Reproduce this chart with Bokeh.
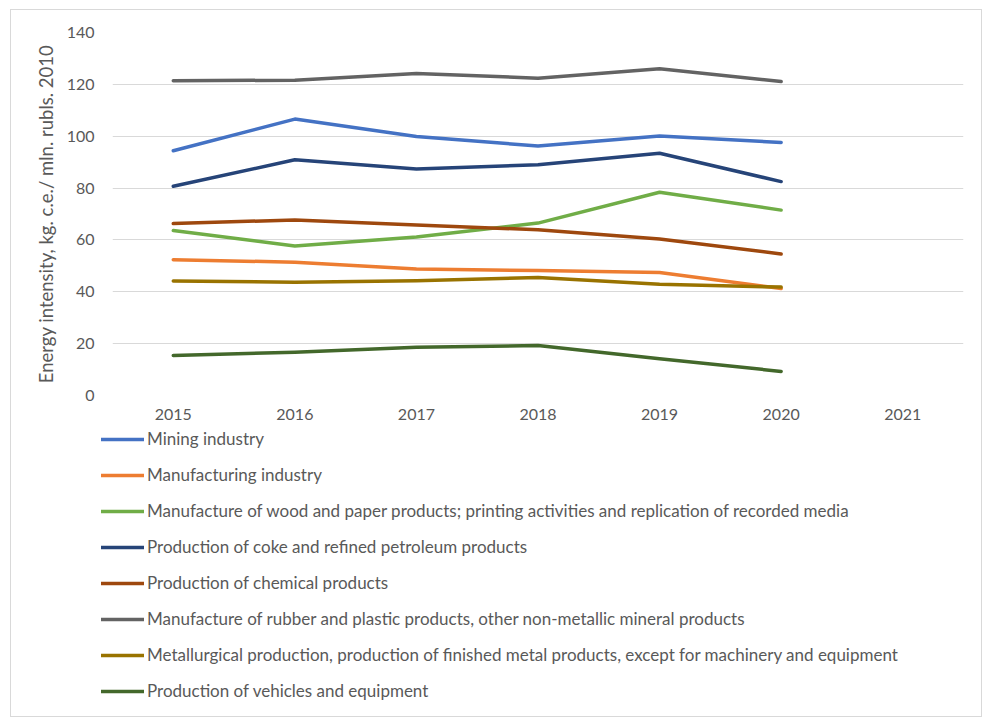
from bokeh.plotting import figure
from bokeh.layouts import column
from bokeh.models import FactorRange, Range1d, Legend, LegendItem, FixedTicker
from bokeh.embed import file_html
from bokeh.resources import INLINE

years = ["2015", "2016", "2017", "2018", "2019", "2020", "2021"]
data_years = ["2015", "2016", "2017", "2018", "2019", "2020"]

mining = [94.4, 106.6, 99.9, 96.2, 100.1, 97.6]
manufacturing = [52.4, 51.4, 48.8, 48.2, 47.4, 41.3]
wood_paper = [63.6, 57.7, 61.1, 66.5, 78.4, 71.5]
coke_petroleum = [80.7, 90.9, 87.4, 89.0, 93.4, 82.5]
chemical = [66.3, 67.7, 65.8, 63.9, 60.4, 54.6]
rubber_plastic = [121.4, 121.6, 124.2, 122.4, 126.0, 121.1]
metallurgical = [44.2, 43.7, 44.3, 45.5, 42.9, 41.8]
vehicles = [15.4, 16.7, 18.6, 19.3, 14.2, 9.3]

series_names = [
    "Mining industry",
    "Manufacturing industry",
    "Manufacture of wood and paper products; printing activities and replication of recorded media",
    "Production of coke and refined petroleum products",
    "Production of chemical products",
    "Manufacture of rubber and plastic products, other non-metallic mineral products",
    "Metallurgical production, production of finished metal products, except for machinery and equipment",
    "Production of vehicles and equipment",
]
series_values = [mining, manufacturing, wood_paper, coke_petroleum, chemical,
                 rubber_plastic, metallurgical, vehicles]
colors = ["#4472C4", "#ED7D31", "#70AD47", "#264478", "#9E480E", "#636363", "#997300", "#43682B"]

y_ticks = [0, 20, 40, 60, 80, 100, 120, 140]

FONT = "Lato"
TXT = "#595959"
LW = 3.5

p = figure(x_range=FactorRange(*years), y_range=Range1d(0, 140),
           width=970, height=418, output_backend="svg", toolbar_location=None,
           min_border_left=101, min_border_right=18, min_border_top=22, min_border_bottom=33)
p.outline_line_color = None
p.background_fill_color = "white"
p.border_fill_color = "white"

p.xgrid.grid_line_color = None
p.ygrid.grid_line_color = "#d9d9d9"
p.ygrid.grid_line_width = 1
p.yaxis.ticker = FixedTicker(ticks=y_ticks)

for ax in (p.xaxis, p.yaxis):
    ax.axis_line_color = None
    ax.major_tick_line_color = None
    ax.minor_tick_line_color = None
    ax.major_label_text_font = FONT
    ax.major_label_text_color = TXT
    ax.major_label_text_font_size = "16px"
p.xaxis.major_label_standoff = 7
p.yaxis.major_label_standoff = 12
p.yaxis.axis_label = "Energy intensity, kg. c.e./ mln. rubls. 2010"
p.yaxis.axis_label_text_font = FONT
p.yaxis.axis_label_text_font_style = "normal"
p.yaxis.axis_label_text_color = TXT
p.yaxis.axis_label_text_font_size = "18.5px"
p.yaxis.axis_label_standoff = 7

for vals, c in zip(series_values, colors):
    p.line(data_years, vals, line_color=c, line_width=LW, line_cap="round", line_join="round")

# legend panel
lg = figure(width=970, height=288, output_backend="svg", toolbar_location=None,
            x_range=Range1d(0, 1), y_range=Range1d(0, 1),
            x_axis_location=None, y_axis_location=None,
            min_border_left=0, min_border_right=0, min_border_top=0, min_border_bottom=0)
lg.outline_line_color = None
lg.xgrid.grid_line_color = None
lg.ygrid.grid_line_color = None
lg.border_fill_color = "white"

items = []
for name, c in zip(series_names, colors):
    r = lg.line(x=[5, 6], y=[5, 5], line_color=c, line_width=LW, line_cap="round")
    items.append(LegendItem(label=name, renderers=[r]))

legend = Legend(items=items, location=(90, 15), orientation="vertical",
                glyph_width=43, glyph_height=20, label_height=20, spacing=15,
                label_standoff=3, padding=0, margin=0,
                border_line_color=None, background_fill_alpha=0,
                label_text_font=FONT, label_text_color=TXT, label_text_font_size="17px")
lg.add_layout(legend, "center")

layout = column(p, column(lg, spacing=0), margin=(9, 0, 0, 10), spacing=0)
layout.styles = {"border": "1px solid #d9d9d9"}

open("out.html", "w").write(file_html(layout, INLINE))
